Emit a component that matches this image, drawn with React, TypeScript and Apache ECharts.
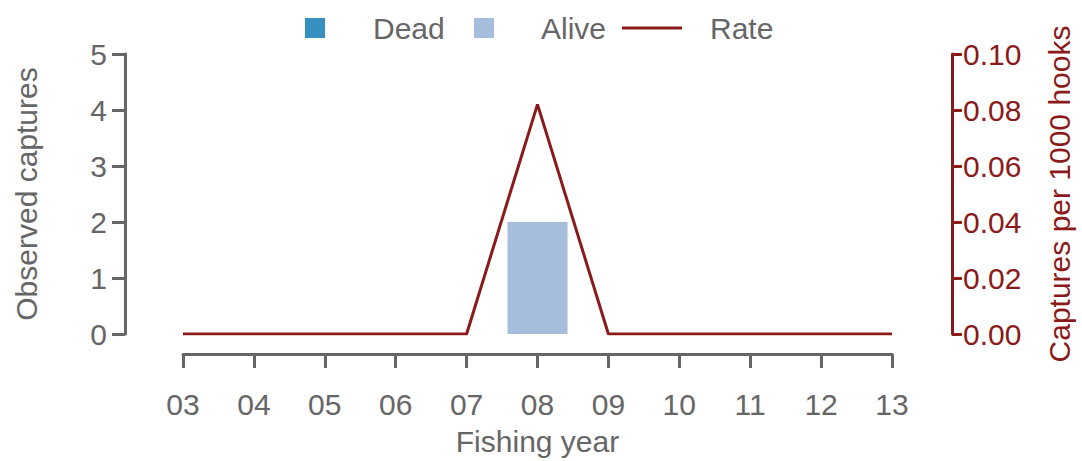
import React, { useEffect, useRef } from "react";
import * as echarts from "echarts";

const years = ["03", "04", "05", "06", "07", "08", "09", "10", "11", "12", "13"];
const dead = [0, 0, 0, 0, 0, 0, 0, 0, 0, 0, 0];
const alive = [0, 0, 0, 0, 0, 2, 0, 0, 0, 0, 0];
const rate = [0, 0, 0, 0, 0, 0.082, 0, 0, 0, 0, 0];

const GREY = "#666666";
const RED = "#8b1a1a";
const DEAD = "#3690c0";
const ALIVE = "#a6bddb";
const FONT = "Liberation Sans";
const FS = 30;

export default function App() {
  const ref = useRef<HTMLDivElement>(null);
  useEffect(() => {
    if (!ref.current) return;
    const chart = echarts.init(ref.current, undefined, { renderer: "svg" });
    chart.setOption({
      animation: false,
      backgroundColor: "#ffffff",
      textStyle: { fontFamily: FONT },
      grid: { left: 183, right: 189, top: 54, bottom: 124, containLabel: false },
      xAxis: {
        type: "category",
        data: years,
        boundaryGap: false,
        offset: 20,
        axisLine: { onZero: false, lineStyle: { color: GREY, width: 3 } },
        axisTick: { show: true, length: 14, lineStyle: { color: GREY, width: 3 } },
        axisLabel: { color: GREY, fontSize: FS, fontFamily: FONT, margin: 35 },
        name: "Fishing year",
        nameLocation: "middle",
        nameGap: 72,
        nameTextStyle: { color: GREY, fontSize: FS, fontFamily: FONT },
        splitLine: { show: false },
      },
      yAxis: [
        {
          type: "value",
          min: 0,
          max: 5,
          interval: 1,
          position: "left",
          offset: 58,
          axisLine: { show: true, lineStyle: { color: GREY, width: 3 } },
          axisTick: { show: true, length: 13, lineStyle: { color: GREY, width: 3 } },
          axisLabel: { color: GREY, fontSize: FS, fontFamily: FONT, margin: 18 },
          splitLine: { show: false },
          name: "Observed captures",
          nameLocation: "middle",
          nameGap: 84,
          nameTextStyle: { color: GREY, fontSize: FS, fontFamily: FONT },
        },
        {
          type: "value",
          min: 0,
          max: 0.1,
          interval: 0.02,
          position: "right",
          offset: 60,
          axisLine: { show: true, lineStyle: { color: RED, width: 3 } },
          axisTick: { show: true, length: 10, lineStyle: { color: RED, width: 3 } },
          axisLabel: {
            color: RED,
            fontSize: FS,
            fontFamily: FONT,
            margin: 11,
            formatter: (v: number) => v.toFixed(2),
          },
          splitLine: { show: false },
          name: "Captures per 1000 hooks",
          nameLocation: "middle",
          nameGap: 92,
          nameTextStyle: { color: RED, fontSize: FS, fontFamily: FONT },
        },
      ],
      series: [
        {
          name: "Dead",
          type: "bar",
          stack: "c",
          data: dead,
          barWidth: 60,
          itemStyle: { color: DEAD },
        },
        {
          name: "Alive",
          type: "bar",
          stack: "c",
          data: alive,
          barWidth: 60,
          itemStyle: { color: ALIVE },
        },
        {
          name: "Rate",
          type: "line",
          yAxisIndex: 1,
          data: rate,
          symbol: "none",
          lineStyle: { color: RED, width: 3 },
          itemStyle: { color: RED },
          z: 5,
        },
      ],
      graphic: [
        { type: "rect", left: 305, top: 18, shape: { width: 20, height: 20 }, style: { fill: DEAD } },
        { type: "text", left: 373, top: 13, style: { text: "Dead", fill: GREY, font: `${FS}px "${FONT}"` } },
        { type: "rect", left: 474, top: 18, shape: { width: 20, height: 20 }, style: { fill: ALIVE } },
        { type: "text", left: 541, top: 13, style: { text: "Alive", fill: GREY, font: `${FS}px "${FONT}"` } },
        { type: "line", shape: { x1: 622, y1: 28, x2: 682, y2: 28 }, style: { stroke: RED, lineWidth: 3 } },
        { type: "text", left: 710, top: 13, style: { text: "Rate", fill: GREY, font: `${FS}px "${FONT}"` } },
      ],
    });
    return () => chart.dispose();
  }, []);
  return (
    <div
      ref={ref}
      style={{ position: "fixed", left: 0, top: 0, width: 1082, height: 461, background: "#fff" }}
    />
  );
}
